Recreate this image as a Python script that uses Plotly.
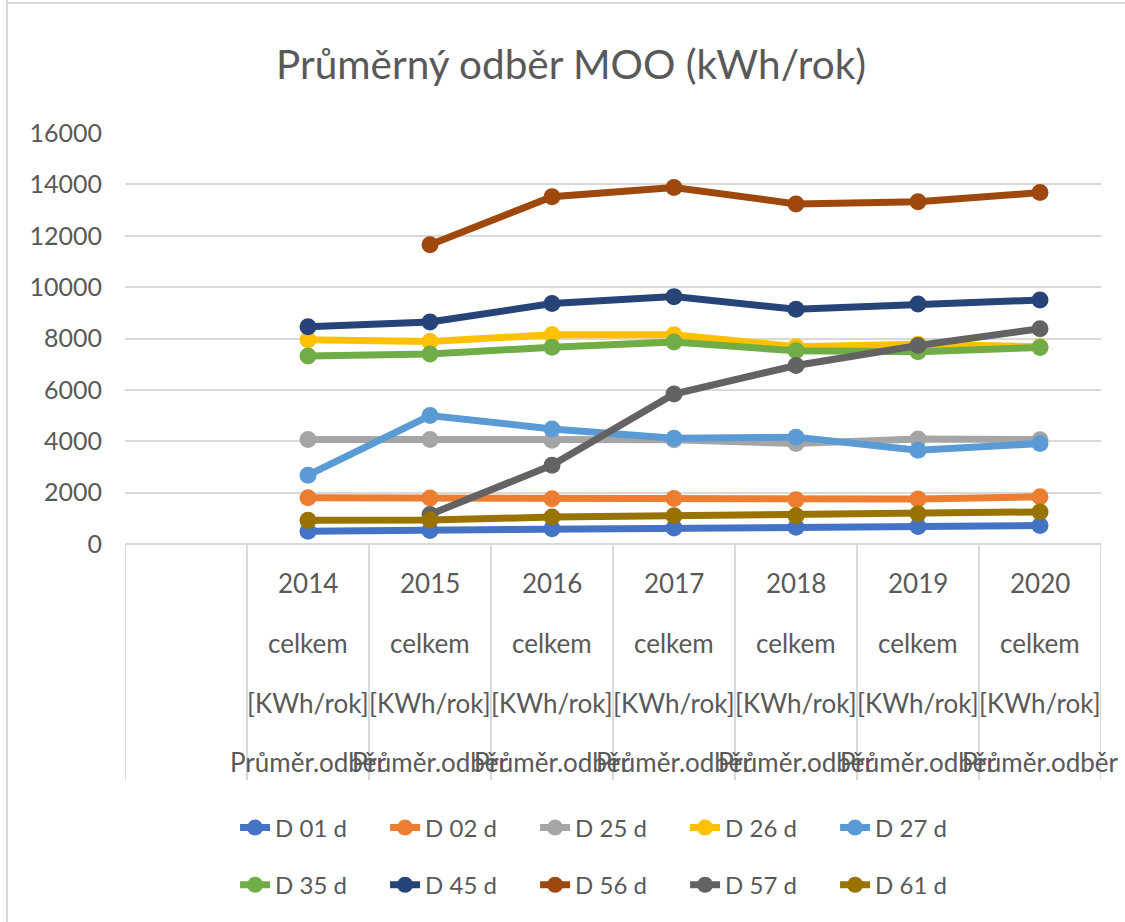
import plotly.graph_objects as go

# categories (x) and series values
years = ["2014", "2015", "2016", "2017", "2018", "2019", "2020"]
label_lines = ["celkem", "[KWh/rok]", "Průměr.odběr"]

series_names = ["D 01 d", "D 02 d", "D 25 d", "D 26 d", "D 27 d",
                "D 35 d", "D 45 d", "D 56 d", "D 57 d", "D 61 d"]

d01 = [500, 530, 590, 620, 650, 680, 720]
d02 = [1800, 1790, 1760, 1770, 1720, 1750, 1840]
d25 = [4070, 4070, 4040, 4060, 3910, 4090, 4060]
d26 = [7950, 7880, 8150, 8150, 7680, 7780, 7680]
d27 = [2680, 5000, 4480, 4120, 4160, 3650, 3910]
d35 = [7320, 7400, 7660, 7860, 7520, 7480, 7650]
d45 = [8460, 8640, 9360, 9630, 9140, 9340, 9500]
d56 = [None, 11650, 13520, 13880, 13240, 13320, 13680]
d57 = [None, 1150, 3070, 5840, 6950, 7730, 8380]
d61 = [920, 930, 1050, 1100, 1100, 1180, 1250]

series_values = [d01, d02, d25, d26, d27, d35, d45, d56, d57, d61]
colors = ["#4472C4", "#ED7D31", "#A5A5A5", "#FFC000", "#5B9BD5",
          "#70AD47", "#264478", "#9E480E", "#636363", "#997300"]

font_family = "Lato, 'Open Sans', sans-serif"
text_color = "#595959"
grid_color = "#D9D9D9"

fig = go.Figure()

for i, (name, vals, col) in enumerate(zip(series_names, series_values, colors)):
    fig.add_trace(go.Scatter(
        x=years, y=vals, name=name, mode="lines+markers",
        line=dict(color=col, width=7),
        marker=dict(color=col, size=17),
        legend="legend" if i < 5 else "legend2",
    ))

# multi-line category labels under each year (x = category index)
line_y = [-0.095, -0.241, -0.387, -0.530]
annotations = []
for idx, yr in enumerate(years):
    for txt, yy in zip([yr] + label_lines, line_y):
        annotations.append(dict(
            x=idx, y=yy, xref="x", yref="paper", text=txt, showarrow=False,
            xanchor="center", yanchor="middle",
            font=dict(family=font_family, size=26, color=text_color),
        ))

# dividers between categories (one blank slot on the left)
shapes = []
for k in range(len(years) + 2):
    shapes.append(dict(
        type="line", xref="x", yref="paper",
        x0=k - 1.5, x1=k - 1.5, y0=0, y1=-0.574,
        line=dict(color=grid_color, width=2),
    ))
# outer chart border (left and top)
shapes.append(dict(type="line", xref="paper", yref="paper",
                   x0=-0.121, x1=-0.121, y0=1.33, y1=-0.95,
                   line=dict(color=grid_color, width=2)))
shapes.append(dict(type="line", xref="paper", yref="paper",
                   x0=-0.121, x1=1.03, y0=1.316, y1=1.316,
                   line=dict(color=grid_color, width=2)))

legend_common = dict(
    orientation="h", xanchor="center", yanchor="middle",
    font=dict(family=font_family, size=24, color=text_color),
    bgcolor="rgba(0,0,0,0)", entrywidth=105, entrywidthmode="pixels",
)

fig.update_layout(
    width=1125, height=922,
    margin=dict(l=125, r=24, t=133, b=378),
    paper_bgcolor="white", plot_bgcolor="white",
    font=dict(family=font_family, color=text_color),
    title=dict(text="Průměrný odběr MOO (kWh/rok)", x=0.5076, y=0.9295,
               xanchor="center", yanchor="middle",
               font=dict(family=font_family, size=40.5, color=text_color)),
    xaxis=dict(type="category", categoryorder="array", categoryarray=years,
               range=[-1.5, 6.5], showticklabels=False, showgrid=False,
               showline=False, zeroline=False, ticks=""),
    yaxis=dict(range=[0, 16000], dtick=2000, tickformat="d",
               showgrid=True, gridcolor=grid_color, gridwidth=2,
               zeroline=True, zerolinecolor=grid_color, zerolinewidth=2,
               showline=False, ticks="", ticklabelstandoff=22,
               tickfont=dict(family=font_family, size=25, color=text_color)),
    legend=dict(x=0.497, y=-0.691, **legend_common),
    legend2=dict(x=0.497, y=-0.830, **legend_common),
    annotations=annotations,
    shapes=shapes,
    showlegend=True,
)

fig.write_html("out.html", config={"displayModeBar": False},
               post_script="document.body.style.margin='0';")
